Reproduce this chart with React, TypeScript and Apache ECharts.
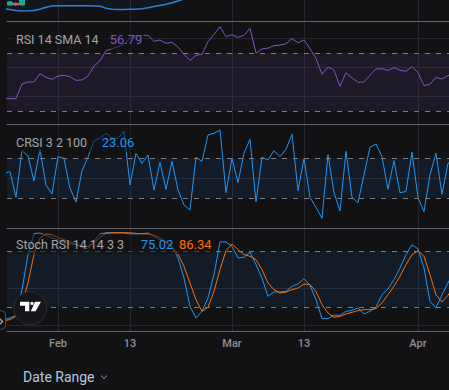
import React, { useEffect, useRef } from "react";
import * as echarts from "echarts";

// ---- data (day index 0 = 2024-01-23, daily) ----
const startDate = "2024-01-23";
const tickIndex = [9, 21, 38, 50, 69];
const tickLabels = ["Feb", "13", "Mar", "13", "Apr"];

// price pane remnant (lower band line) and a few candles
const bandLower = [12.3, 11.5, 10.5, 10.1, 10.2, 10.6, 11.8, 13.8, 15, 15.3, 15.3, 15.3, 15.3, 15.3, 15.2, 15.1, 14.9, 12.8, 11.7, 11.6, 11.6, 11.7, 11.8, 12.3, 13.3, 14.4, 15.6, 16.8, 18.2, 20, 22, 24];
const candleIndex = [1, 2, 3];
const candleOHLC = [
  [16, 19, 15.5, 20],
  [17.7, 16, 15.5, 18.5],
  [16, 24, 15.8, 26],
];

const rsi = [
  38.5, 38.5, 38.5, 48.6, 50.0, 50.0, 55.7, 53.2, 51.8, 54.1,
  54.6, 53.7, 51.1, 51.4, 54.1, 61.0, 64.5, 71.6, 73.0, 74.4,
  76.0, 80.1, 82.0, 82.2, 82.2, 78.0, 79.0, 76.7, 77.4, 74.1,
  69.1, 64.9, 68.4, 69.1, 77.8, 82.9, 88.2, 81.3, 82.6, 80.8,
  82.2, 87.0, 70.0, 72.8, 73.4, 75.1, 75.5, 76.4, 79.9, 77.1,
  79.0, 73.0, 66.3, 55.3, 60.3, 58.3, 47.0, 56.4, 52.8, 49.8,
  50.0, 54.6, 59.0, 59.2, 58.0, 59.9, 58.0, 57.4, 60.6, 56.4,
  47.5, 48.4, 53.2, 52.1, 54.4, 55.5,
];

const crsi = [
  55, 56.7, 31, 77.7, 72.3, 47.3, 79, 43.3, 34.3, 71.7,
  70, 40, 26.3, 57.7, 71, 87.7, 90, 95, 90, 90,
  96.7, 43.3, 75, 65, 73.3, 38.3, 65.7, 39, 67, 38.3,
  23.3, 18.3, 71, 66.7, 93.3, 95, 98.3, 35.7, 70, 45.7,
  75, 89, 26.3, 71, 68.3, 77.7, 71.7, 79, 94, 37.7,
  69.7, 31, 21, 10, 73.7, 35.7, 17.3, 77, 31, 25.7,
  53.3, 81, 84.3, 71.7, 39, 67.7, 35.7, 36.7, 76, 31,
  16.7, 53.3, 75, 34, 65, 68,
];

const stochK = [
  6.1, 7.9, 10.8, 38.5, 76.4, 99.1, 99.8, 97.3, 94.4, 92.6,
  89, 87.9, 87.2, 84.3, 82.9, 90.8, 98.7, 100, 100, 100,
  100, 98.7, 98.7, 99.1, 99.8, 96.2, 92.6, 90.1, 85.4, 72.8,
  51.1, 20.5, 7.9, 15.1, 29.5, 54.8, 90.1, 90.1, 85.4, 72.8,
  73.5, 79.3, 65.6, 51.1, 31.3, 36, 36, 36.7, 42.1, 44.7,
  50.4, 43.2, 27.7, 7.2, 7.2, 10.8, 10.8, 15.1, 16.2, 18.7,
  12.2, 15.1, 19.5, 33.1, 39.2, 49.3, 61.9, 76.3, 87.1, 82.8,
  61.9, 25.9, 18.7, 33.1, 45.7, 58,
];

const stochD = [
  5, 6.1, 9.7, 22.3, 45.7, 76.4, 94.4, 98.7, 98, 95.1,
  92.6, 90.1, 87.9, 85.4, 85.4, 89, 95.1, 99.4, 100, 100,
  100, 100, 99.4, 98.7, 98.7, 97.3, 94.4, 90.1, 83.6, 77.1,
  63.8, 45.7, 27.7, 15.1, 19.4, 36.7, 60.2, 80.7, 87.9, 81.8,
  76.4, 74.6, 71, 60.2, 45.7, 38.5, 34.9, 36, 38.5, 40.3,
  44.6, 43.9, 36.7, 22.3, 13.3, 8.6, 9.7, 12.2, 14, 15.8,
  16.9, 16.9, 18, 24.1, 33.1, 42.2, 53, 65.5, 76.3, 80.6,
  74.6, 54.7, 33.1, 25.2, 32.4, 42,
];

const legends = [
  { name: "RSI 14 SMA 14", values: ["56.79"], colors: ["#7e57c2"] },
  { name: "CRSI 3 2 100", values: ["23.06"], colors: ["#2196f3"] },
  { name: "Stoch RSI 14 14 3 3", values: ["75.02", "86.34"], colors: ["#2196f3", "#ff6d00"] },
];

const BG = "#121215";
const FONT = "Roboto, 'Noto Sans', sans-serif";

const toXY = (arr: number[]) => arr.map((v, i) => [i, v]);

export default function App() {
  const ref = useRef<HTMLDivElement>(null);

  useEffect(() => {
    document.body.style.margin = "0";
    document.body.style.background = BG;
    if (!ref.current) return;
    const chart = echarts.init(ref.current, undefined, { renderer: "svg" });

    const grids = [
      { left: 7, right: 0, top: 0, height: 21 },
      { left: 7, right: 0, top: 21, height: 103 },
      { left: 7, right: 0, top: 124, height: 104 },
      { left: 7, right: 0, top: 228, height: 103 },
    ];
    const yRanges = [
      [0, 21],
      [21.0, 92.1],
      [0.3, 104.3],
      [-6.2, 105.2],
    ];
    const yGrid = [[], [40, 60, 80], [50], [0, 40]];

    const xAxes = grids.map((_, k) => ({
      type: "value",
      gridIndex: k,
      min: 0.5,
      max: 74.17,
      axisLine: { show: true, onZero: false, lineStyle: { color: "#66666c", width: 1 } },
      axisTick: { show: false, customValues: tickIndex },
      axisLabel: {
        show: k === 3,
        customValues: tickIndex,
        margin: 7,
        color: "#8e8e94",
        fontSize: 11,
        fontWeight: 500,
        fontFamily: FONT,
        formatter: (v: number) => {
          const j = tickIndex.indexOf(Math.round(v));
          return j >= 0 ? tickLabels[j] : "";
        },
      },
      splitLine: { show: true, lineStyle: { color: "#27272d", width: 1 } },
    }));

    const yAxes = grids.map((_, k) => ({
      type: "value",
      gridIndex: k,
      min: yRanges[k][0],
      max: yRanges[k][1],
      axisLine: { show: false },
      axisLabel: { show: false },
      axisTick: { show: false, customValues: yGrid[k].length ? yGrid[k] : [-1000] },
      splitLine: { show: yGrid[k].length > 0, lineStyle: { color: "#26262c", width: 1 } },
    }));

    const dashed = (a: number, b: number) => ({
      silent: true,
      symbol: ["none", "none"],
      label: { show: false },
      lineStyle: { color: "#7b7b84", type: [5, 6], width: 1 },
      data: [{ yAxis: a }, { yAxis: b }],
    });
    const band = (a: number, b: number, color: string) => ({
      silent: true,
      itemStyle: { color },
      data: [[{ yAxis: a }, { yAxis: b }]],
    });

    // legend graphics
    const legendY = [39, 142.3, 244.3];
    const valueX = [[109.7], [101.7], [140.7, 179]];
    const boxRight = [144, 136, 213];
    const graphics: any[] = [];
    legends.forEach((lg, k) => {
      graphics.push({
        type: "rect",
        z: 100,
        shape: { x: 12, y: legendY[k] - 10, width: boxRight[k] - 12, height: 20, r: 2 },
        style: { fill: "rgba(18,18,21,0.55)" },
      });
      graphics.push({
        type: "text",
        z: 101,
        x: 16,
        y: legendY[k],
        style: {
          text: lg.name,
          fill: "#a3a4ab",
          font: `12.5px ${FONT}`,
          textVerticalAlign: "middle",
          verticalAlign: "middle",
        },
      });
      lg.values.forEach((val, j) => {
        graphics.push({
          type: "text",
          z: 101,
          x: valueX[k][j],
          y: legendY[k],
          style: {
            text: val,
            fill: lg.colors[j],
            font: `13px ${FONT}`,
            textVerticalAlign: "middle",
            verticalAlign: "middle",
          },
        });
      });
    });

    // TradingView badge
    graphics.push({
      type: "circle",
      z: 100,
      shape: { cx: 30.3, cy: 308.3, r: 16.5 },
      style: { fill: "#15151a", stroke: "#2c2c33", lineWidth: 1 },
    });
    graphics.push({
      type: "polygon",
      z: 101,
      shape: { points: [[20, 301.7], [29.3, 301.7], [29.3, 311.3], [25, 311.3], [25, 305.7], [20, 305.7]] },
      style: { fill: "#ffffff" },
    });
    graphics.push({
      type: "circle",
      z: 101,
      shape: { cx: 32, cy: 303.4, r: 1.7 },
      style: { fill: "#ffffff" },
    });
    graphics.push({
      type: "polygon",
      z: 101,
      shape: { points: [[35, 301.7], [41, 301.7], [35.6, 311.3], [30.8, 311.3]] },
      style: { fill: "#ffffff" },
    });
    // cut-off scroll button at the left
    graphics.push({
      type: "rect",
      z: 100,
      shape: { x: -8, y: 310.7, width: 13.5, height: 18.6, r: 4 },
      style: { fill: BG, stroke: "#4a4a52", lineWidth: 1 },
    });
    graphics.push({
      type: "polyline",
      z: 101,
      shape: { points: [[0, 318.8], [2.6, 321.5], [0, 324.2]] },
      style: { stroke: "#b0b0b6", lineWidth: 1.2, fill: "none" },
    });
    // Date Range
    graphics.push({
      type: "text",
      z: 101,
      x: 23,
      y: 377,
      style: {
        text: "Date Range",
        fill: "#b4c6de",
        font: `14px ${FONT}`,
        textVerticalAlign: "middle",
        verticalAlign: "middle",
      },
    });
    graphics.push({
      type: "polyline",
      z: 101,
      shape: { points: [[101, 375.6], [104, 378.4], [107, 375.6]] },
      style: { stroke: "#8d9bb0", lineWidth: 1, fill: "none" },
    });

    const option: any = {
      animation: false,
      backgroundColor: BG,
      grid: grids,
      xAxis: xAxes,
      yAxis: yAxes,
      graphic: graphics,
      series: [
        {
          type: "line",
          xAxisIndex: 0,
          yAxisIndex: 0,
          data: toXY(bandLower),
          showSymbol: false,
          lineStyle: { color: "#2b82d6", width: 1.5 },
          areaStyle: { origin: "end", color: "rgba(33,150,243,0.06)" },
        },
        {
          type: "candlestick",
          xAxisIndex: 0,
          yAxisIndex: 0,
          barWidth: 5,
          data: candleIndex.map((i, j) => [i, ...candleOHLC[j]]),
          encode: { x: 0, y: [1, 2, 3, 4] },
          itemStyle: { color: "#22ab94", color0: "#f7525f", borderColor: "#22ab94", borderColor0: "#f7525f" },
        },
        {
          type: "line",
          xAxisIndex: 1,
          yAxisIndex: 1,
          data: toXY(rsi),
          showSymbol: false,
          lineStyle: { color: "#7e57c2", width: 1 },
          markLine: dashed(70, 30),
          markArea: band(30, 70, "rgba(126,87,194,0.1)"),
        },
        {
          type: "line",
          xAxisIndex: 2,
          yAxisIndex: 2,
          data: toXY(crsi),
          showSymbol: false,
          lineStyle: { color: "#2196f3", width: 1 },
          markLine: dashed(70, 30),
          markArea: band(30, 70, "rgba(33,150,243,0.08)"),
        },
        {
          type: "line",
          xAxisIndex: 3,
          yAxisIndex: 3,
          data: toXY(stochK),
          showSymbol: false,
          lineStyle: { color: "#2196f3", width: 1 },
          markLine: dashed(80, 20),
          markArea: band(20, 80, "rgba(33,150,243,0.08)"),
        },
        {
          type: "line",
          xAxisIndex: 3,
          yAxisIndex: 3,
          data: toXY(stochD),
          showSymbol: false,
          lineStyle: { color: "#ff6d00", width: 1 },
        },
      ],
    };
    chart.setOption(option);
    return () => chart.dispose();
  }, []);

  return <div ref={ref} style={{ width: 449, height: 390, background: BG }} />;
}
